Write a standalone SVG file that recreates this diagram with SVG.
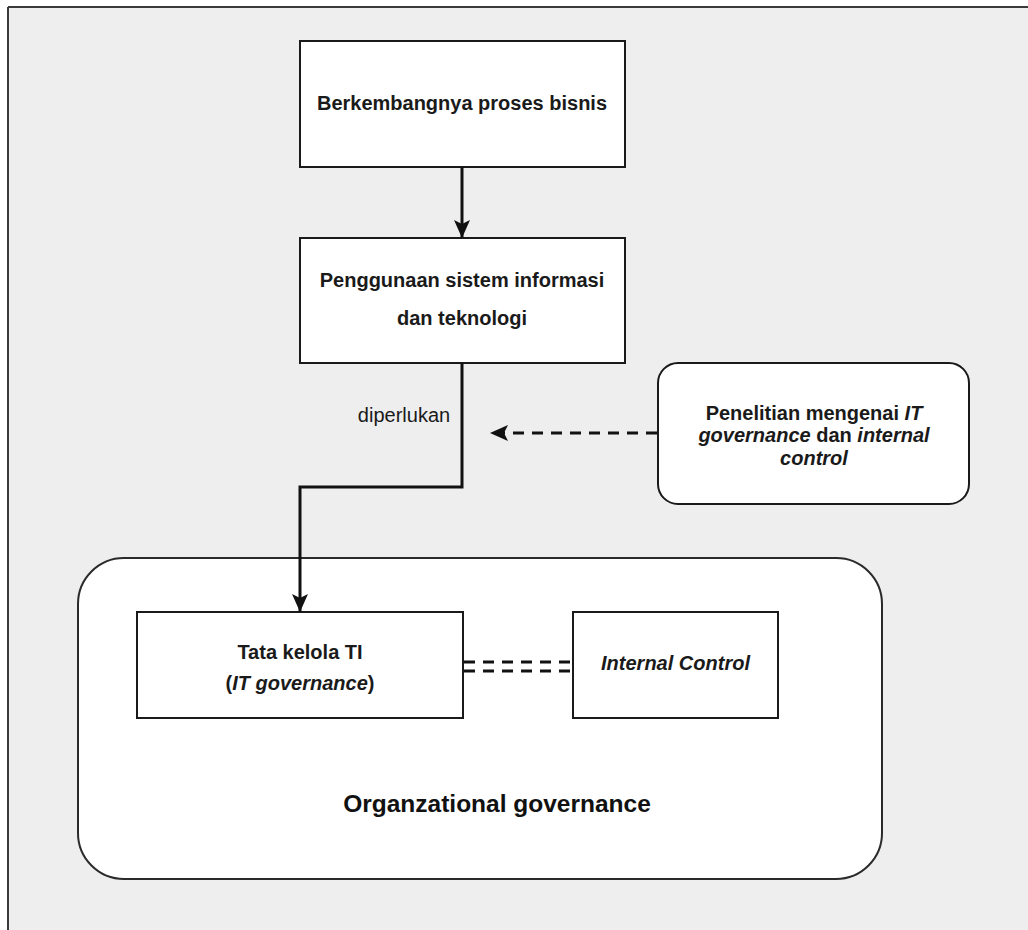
<svg xmlns="http://www.w3.org/2000/svg" width="1028" height="930" viewBox="0 0 1028 930">
  <style>
    .box { fill: #ffffff; stroke: #1a1a1a; stroke-width: 2; }
    .rbox { fill: #ffffff; stroke: #2a2a2a; stroke-width: 2; }
    .t { font-family: "Liberation Sans", Arial, sans-serif; font-size: 20px; font-weight: bold; fill: #1a1a1a; text-anchor: middle; }
    .lbl { font-family: "Liberation Sans", Arial, sans-serif; font-size: 20px; fill: #1a1a1a; text-anchor: middle; }
    .big { font-family: "Liberation Sans", Arial, sans-serif; font-size: 24.5px; font-weight: bold; fill: #111111; text-anchor: middle; }
    .edge { fill: none; stroke: #111111; stroke-width: 3; }
    .dash { stroke-dasharray: 11 8; }
    .it { font-style: italic; }
  </style>
  <defs>
    <marker id="arrow" markerUnits="userSpaceOnUse" markerWidth="20" markerHeight="18" refX="18" refY="8" orient="auto" overflow="visible">
      <path d="M0,0 L18,8 L0,16 L4,8 Z" fill="#111111" stroke="none"/>
    </marker>
  </defs>

  <rect x="0" y="0" width="1028" height="930" fill="#ffffff"/>
  <rect x="8" y="7" width="1020" height="923" fill="#eeeeee"/>
  <line x1="8" y1="7" x2="1028" y2="7" stroke="#3a3a3a" stroke-width="2"/>
  <line x1="8" y1="7" x2="8" y2="930" stroke="#3a3a3a" stroke-width="2"/>

  <g id="org-governance">
    <rect class="rbox" x="78" y="558" width="804" height="321" rx="46" ry="46"/>
    <text class="big" x="497" y="812">Organzational governance</text>
  </g>

  <g id="berkembangnya">
    <rect class="box" x="300" y="41" width="325" height="126"/>
    <text class="t" x="462" y="110">Berkembangnya proses bisnis</text>
  </g>

  <g id="penggunaan">
    <rect class="box" x="300" y="238" width="325" height="125"/>
    <text class="t" x="462" y="287">Penggunaan sistem informasi</text>
    <text class="t" x="462" y="325">dan teknologi</text>
  </g>

  <g id="penelitian">
    <rect class="box" x="658" y="363" width="311" height="141" rx="20" ry="20"/>
    <text class="t" x="814" y="420">Penelitian mengenai <tspan class="it">IT</tspan></text>
    <text class="t" x="814" y="442"><tspan class="it">governance</tspan> dan <tspan class="it">internal</tspan></text>
    <text class="t" x="814" y="465"><tspan class="it">control</tspan></text>
  </g>

  <g id="tata-kelola">
    <rect class="box" x="137" y="612" width="326" height="106"/>
    <text class="t" x="300" y="659">Tata kelola TI</text>
    <text class="t" x="300" y="690">(<tspan class="it">IT governance</tspan>)</text>
  </g>

  <g id="internal-control">
    <rect class="box" x="573" y="612" width="205" height="106"/>
    <text class="t it" x="675.5" y="670">Internal Control</text>
  </g>

  <g id="connectors">
    <line class="edge" x1="462" y1="167" x2="462" y2="238" marker-end="url(#arrow)"/>
    <path class="edge" d="M462,363 V487 H300 V612" marker-end="url(#arrow)"/>
    <line class="edge dash" x1="657" y1="433" x2="490" y2="433" marker-end="url(#arrow)"/>
    <line class="edge dash" x1="464" y1="662" x2="572" y2="662"/>
    <line class="edge dash" x1="464" y1="671" x2="572" y2="671"/>
    <text class="lbl" x="404" y="422">diperlukan</text>
  </g>
</svg>
